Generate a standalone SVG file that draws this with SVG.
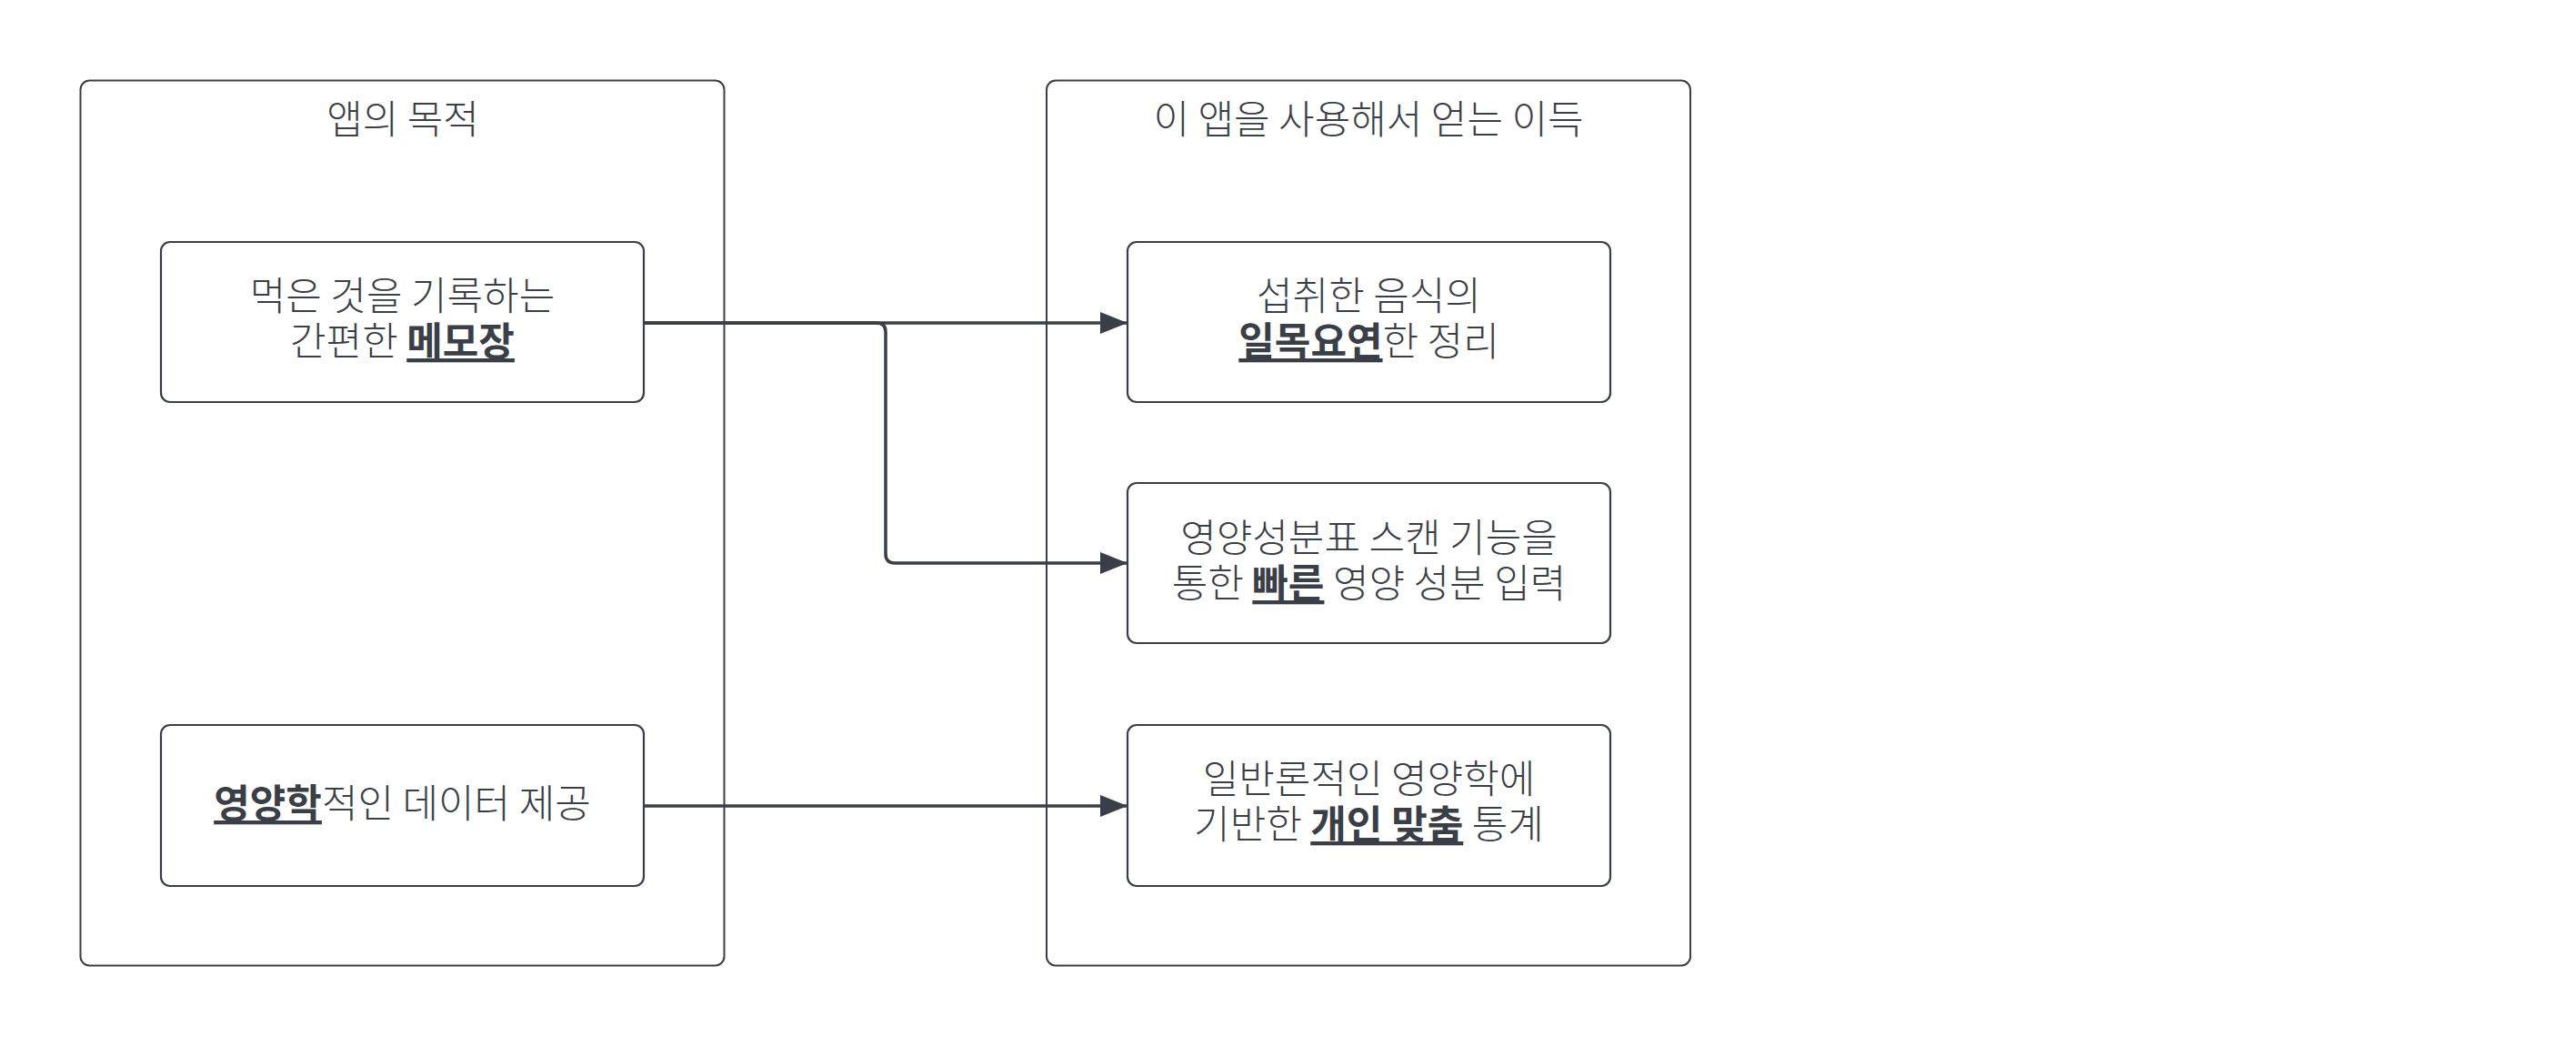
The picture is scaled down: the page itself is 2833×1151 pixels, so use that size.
<svg xmlns="http://www.w3.org/2000/svg" width="2833" height="1151" viewBox="0 0 2833 1151">
<style>
.bg{fill:#ffffff}
.container{fill:#ffffff;stroke:#3a3f47;stroke-width:2}
.box{fill:#ffffff;stroke:#3a3f47;stroke-width:2.2}
.t{font-family:"Noto Sans CJK KR","Noto Sans KR",sans-serif;font-size:43px;font-weight:300;fill:#3a3f47;text-anchor:middle}
.b{font-weight:700;text-decoration:underline}
.conn{fill:none;stroke:#3a3f47;stroke-width:3.5}
</style>
<defs>
<marker id="arrow" viewBox="0 0 30 24" refX="30" refY="12" markerWidth="30" markerHeight="24" markerUnits="userSpaceOnUse" orient="auto">
<path d="M0,0 L30,12 L0,24 Z" fill="#3a3f47"/>
</marker>
</defs>
<rect class="bg" x="0" y="0" width="2833" height="1151"/>
<g id="container-purpose">
<rect class="container" x="88.5" y="88.5" width="708" height="973" rx="10"/>
<text class="t" x="443" y="147">앱의 목적</text>
</g>
<g id="container-benefits">
<rect class="container" x="1151" y="88.5" width="708" height="973" rx="10"/>
<text class="t" x="1505" y="147">이 앱을 사용해서 얻는 이득</text>
</g>
<g id="node-memo">
<rect class="box" x="177" y="266" width="531" height="176" rx="10"/>
<text class="t" x="442.5" y="341">먹은 것을 기록하는</text>
<text class="t" x="442.5" y="391">간편한 <tspan class="b">메모장</tspan></text>
</g>
<g id="node-data">
<rect class="box" x="177" y="797" width="531" height="177" rx="10"/>
<text class="t" x="442.5" y="899"><tspan class="b">영양학</tspan>적인 데이터 제공</text>
</g>
<g id="node-summary">
<rect class="box" x="1240" y="266" width="531" height="176" rx="10"/>
<text class="t" x="1505.5" y="341">섭취한 음식의</text>
<text class="t" x="1505.5" y="391"><tspan class="b">일목요연</tspan>한 정리</text>
</g>
<g id="node-scan">
<rect class="box" x="1240" y="531" width="531" height="176" rx="10"/>
<text class="t" x="1505.5" y="607">영양성분표 스캔 기능을</text>
<text class="t" x="1505.5" y="657">통한 <tspan class="b">빠른</tspan> 영양 성분 입력</text>
</g>
<g id="node-stats">
<rect class="box" x="1240" y="797" width="531" height="177" rx="10"/>
<text class="t" x="1505.5" y="872">일반론적인 영양학에</text>
<text class="t" x="1505.5" y="922">기반한 <tspan class="b">개인 맞춤</tspan> 통계</text>
</g>
<g id="connectors">
<path class="conn" d="M708,355 L1240,355" marker-end="url(#arrow)"/>
<path class="conn" d="M708,355 L964,355 Q974,355 974,365 L974,609 Q974,619 984,619 L1240,619" marker-end="url(#arrow)"/>
<path class="conn" d="M708,886 L1240,886" marker-end="url(#arrow)"/>
</g>
</svg>
